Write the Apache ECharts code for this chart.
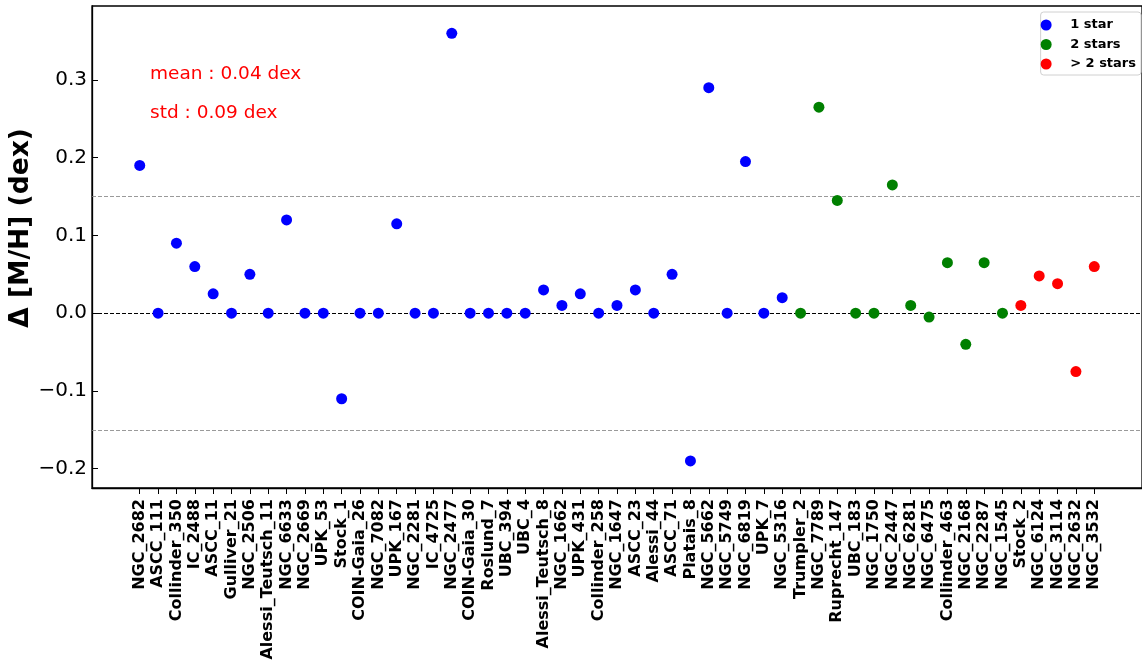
<!DOCTYPE html>
<html>
<head>
<meta charset="utf-8">
<script src="https://cdn.jsdelivr.net/npm/echarts@6/dist/echarts.min.js"></script>
<style>html,body{margin:0;padding:0;background:#fff}#c{width:1142px;height:666px}</style>
</head>
<body>
<div id="c"></div>
<script>
// ---- data ----
const oneStarNames = ['NGC_2682','ASCC_111','Collinder_350','IC_2488','ASCC_11','Gulliver_21','NGC_2506','Alessi_Teutsch_11','NGC_6633','NGC_2669','UPK_53','Stock_1','COIN-Gaia_26','NGC_7082','UPK_167','NGC_2281','IC_4725','NGC_2477','COIN-Gaia_30','Roslund_7','UBC_394','UBC_4','Alessi_Teutsch_8','NGC_1662','UPK_431','Collinder_258','NGC_1647','ASCC_23','Alessi_44','ASCC_71','Platais_8','NGC_5662','NGC_5749','NGC_6819','UPK_7','NGC_5316'];
const oneStarValues = [0.19,0,0.09,0.06,0.025,0,0.05,0,0.12,0,0,-0.11,0,0,0.115,0,0,0.36,0,0,0,0,0.03,0.01,0.025,0,0.01,0.03,0,0.05,-0.19,0.29,0,0.195,0,0.02];
const twoStarNames = ['Trumpler_2','NGC_7789','Ruprecht_147','UBC_183','NGC_1750','NGC_2447','NGC_6281','NGC_6475','Collinder_463','NGC_2168','NGC_2287','NGC_1545'];
const twoStarValues = [0,0.265,0.145,0,0,0.165,0.01,-0.005,0.065,-0.04,0.065,0];
const manyStarNames = ['Stock_2','NGC_6124','NGC_3114','NGC_2632','NGC_3532'];
const manyStarValues = [0.01,0.048,0.038,-0.075,0.06];
const yTickValues = [-0.2,-0.1,0.0,0.1,0.2,0.3];
const meanText = 'mean : 0.04 dex';
const stdText = 'std : 0.09 dex';

const categories = oneStarNames.concat(twoStarNames, manyStarNames);
const xTickValues = categories.map((_, i) => i);
function toPoints(values, offset) { return values.map((v, i) => [offset + i, v]); }
const oneStarData = toPoints(oneStarValues, 0);
const twoStarData = toPoints(twoStarValues, oneStarNames.length);
const manyStarData = toPoints(manyStarValues, oneStarNames.length + twoStarNames.length);

const FONT = '"DejaVu Sans", sans-serif';
const chart = echarts.init(document.getElementById('c'));
chart.setOption({
  animation: false,
  backgroundColor: '#fff',
  grid: { left: 92, top: 6, width: 1052, height: 482, show: true, borderColor: '#000', borderWidth: 1.3, backgroundColor: 'transparent' },
  xAxis: {
    type: 'value', min: -2.6, max: 54.6,
    axisLine: { show: true, onZero: false, lineStyle: { color: '#000', width: 1.3 } },
    axisTick: { show: true, customValues: xTickValues, length: 6, inside: false, lineStyle: { color: '#000', width: 1 } },
    axisLabel: {
      customValues: xTickValues, rotate: 90, margin: 11,
      formatter: v => categories[Math.round(v)] || '',
      fontFamily: FONT, fontWeight: 'bold', fontSize: 16, color: '#000'
    },
    splitLine: { show: false }
  },
  yAxis: {
    type: 'value', min: -0.2248, max: 0.3951,
    axisLine: { show: true, onZero: false, lineStyle: { color: '#000', width: 1.3 } },
    axisTick: { show: true, customValues: yTickValues, length: 6, inside: true, lineStyle: { color: '#000', width: 1 } },
    axisLabel: {
      customValues: yTickValues, margin: 5,
      formatter: v => (v < -1e-9 ? '\u2212' + Math.abs(v).toFixed(1) : Math.abs(v).toFixed(1)),
      fontFamily: FONT, fontSize: 20, color: '#000'
    },
    splitLine: { show: false }
  },
  legend: {
    orient: 'vertical', right: 1, top: 12,
    padding: [6, 5, 4, 0], itemGap: 5.5,
    itemWidth: 38, itemHeight: 11,
    borderColor: '#d0d0d0', borderWidth: 1, borderRadius: 3, backgroundColor: '#fff',
    textStyle: { fontFamily: FONT, fontWeight: 'bold', fontSize: 13, color: '#000', lineHeight: 14 },
    data: [{ name: '1 star', icon: 'circle' }, { name: '2 stars', icon: 'circle' }, { name: '> 2 stars', icon: 'circle' }]
  },
  graphic: [
    { type: 'text', x: 150, y: 74, style: { text: meanText, fill: '#ff0000', font: '18.5px ' + FONT, textAlign: 'left', textVerticalAlign: 'middle', align: 'left', verticalAlign: 'middle' } },
    { type: 'text', x: 150, y: 113, style: { text: stdText, fill: '#ff0000', font: '18.5px ' + FONT, textAlign: 'left', textVerticalAlign: 'middle', align: 'left', verticalAlign: 'middle' } },
    { type: 'text', x: 21, y: 228, rotation: Math.PI / 2, style: { text: '\u0394 [M/H] (dex)', fill: '#000', font: 'bold 26.5px ' + FONT, textAlign: 'center', textVerticalAlign: 'middle', align: 'center', verticalAlign: 'middle' } }
  ],
  series: [
    {
      name: '1 star', type: 'scatter', data: oneStarData, symbol: 'circle', symbolSize: 11,
      itemStyle: { color: '#0000ff', opacity: 1 }, z: 5,
      markLine: {
        silent: true, symbol: 'none', label: { show: false }, animation: false,
        data: [
          { yAxis: 0, lineStyle: { color: '#000', type: [4, 2], width: 1 } },
          { yAxis: 0.15, lineStyle: { color: '#808080', type: [4, 2], width: 0.8 } },
          { yAxis: -0.15, lineStyle: { color: '#808080', type: [4, 2], width: 0.8 } }
        ]
      }
    },
    { name: '2 stars', type: 'scatter', data: twoStarData, symbol: 'circle', symbolSize: 11, itemStyle: { color: '#008000', opacity: 1 }, z: 5 },
    { name: '> 2 stars', type: 'scatter', data: manyStarData, symbol: 'circle', symbolSize: 11, itemStyle: { color: '#ff0000', opacity: 1 }, z: 5 }
  ]
});
</script>
</body>
</html>
